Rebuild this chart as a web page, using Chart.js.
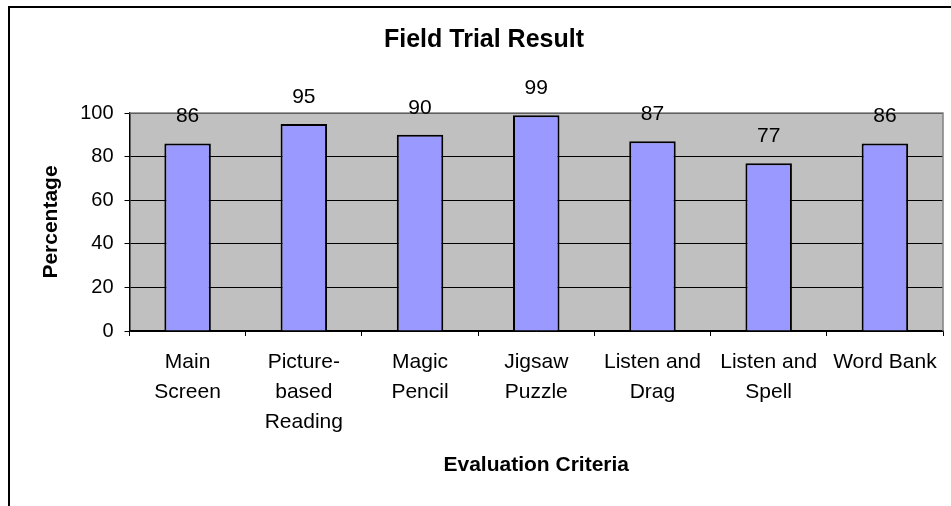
<!DOCTYPE html>
<html>
<head>
<meta charset="utf-8">
<title>Field Trial Result</title>
<script src="https://cdn.jsdelivr.net/npm/chart.js@4.4.1/dist/chart.umd.min.js"></script>
<style>
    body { margin: 0; background: #fff; overflow: hidden; }
    #frame {
        position: absolute; left: 8px; top: 6px;
        width: 1000px; height: 600px;
        border-left: 2px solid #000; border-top: 2px solid #000;
    }
    #chart1 { position: absolute; left: 0; top: 0; }
</style>
</head>
<body>
<div id="frame"></div>
<canvas id="chart1" width="951" height="506"></canvas>
<script>
        // data
        const criteria = [
            ['Main', 'Screen'],
            ['Picture-', 'based', 'Reading'],
            ['Magic', 'Pencil'],
            ['Jigsaw', 'Puzzle'],
            ['Listen and', 'Drag'],
            ['Listen and', 'Spell'],
            ['Word Bank']
        ];
        const percentage = [86, 95, 90, 99, 87, 77, 86];
        const yTicks = [0, 20, 40, 60, 80, 100];

        const fontFamily = "'Liberation Sans', Arial, sans-serif";

        // gray plot area, gray top/right edge, title and value labels
        const excelLook = {
            id: 'excelLook',
            beforeDraw(chart) {
                const a = chart.chartArea;
                const c = chart.ctx;
                c.save();
                c.fillStyle = '#C0C0C0';
                c.fillRect(a.left, a.top, a.right - a.left, a.bottom - a.top);
                c.restore();
            },
            afterDraw(chart) {
                const a = chart.chartArea;
                const c = chart.ctx;
                c.save();
                c.strokeStyle = '#808080';
                c.lineWidth = 1.5;
                c.beginPath();
                c.moveTo(a.left, a.top);
                c.lineTo(a.right, a.top);
                c.lineTo(a.right, a.bottom);
                c.stroke();

                c.fillStyle = '#000';
                c.textAlign = 'center';
                c.textBaseline = 'middle';
                c.font = 'bold 25px ' + fontFamily;
                c.fillText('Field Trial Result', 484, 40);

                c.font = '21px ' + fontFamily;
                chart.getDatasetMeta(0).data.forEach(function (bar, i) {
                    c.fillText(String(percentage[i]), bar.x, bar.y - 27);
                });
                c.restore();
            }
        };

        const ctx1 = document.getElementById('chart1');

        new Chart(ctx1, {
        type: 'bar',
        data: {
            labels: criteria,
            datasets: [{
                label: 'Percentage',
                data: percentage,
                backgroundColor: '#9999FF',
                borderColor: '#000000',
                borderWidth: 2,
                borderSkipped: 'bottom',
                categoryPercentage: 1,
                barPercentage: 0.4,
            }]
        },
        plugins: [excelLook],
        options: {
            responsive: false,
            animation: false,
            events: [],
            layout: {
                padding: { left: 0, right: 8, top: 113, bottom: 0 }
            },
            plugins: {
                legend: { display: false },
                title: { display: false },
                tooltip: { enabled: false },
            },
            scales: {
                x: {
                    afterFit(scale) { scale.height = 175; },
                    grid: {
                        offset: true,
                        drawOnChartArea: false,
                        tickLength: 5,
                        color: '#000',
                    },
                    border: { display: true, color: '#000', width: 1.5 },
                    ticks: {
                        color: '#000',
                        padding: 11,
                        maxRotation: 0,
                        autoSkip: false,
                        font: { family: fontFamily, size: 21, lineHeight: 30 / 21 },
                    },
                    title: {
                        display: true,
                        text: 'Evaluation Criteria',
                        color: '#000',
                        padding: { top: 0, bottom: 28 },
                        font: { family: fontFamily, size: 21, weight: 'bold' },
                    },
                },
                y: {
                    min: 0,
                    max: 100,
                    afterFit(scale) { scale.width = 129.5; },
                    afterBuildTicks(scale) {
                        scale.ticks = yTicks.map(v => ({ value: v }));
                    },
                    grid: {
                        color: '#000',
                        lineWidth: 1,
                        tickLength: 5,
                    },
                    border: { display: true, color: '#000', width: 1.5 },
                    ticks: {
                        color: '#000',
                        padding: 11,
                        font: { family: fontFamily, size: 20 },
                    },
                    title: {
                        display: true,
                        text: 'Percentage',
                        color: '#000',
                        padding: { top: 39, bottom: 0 },
                        font: { family: fontFamily, size: 21, weight: 'bold' },
                    },
                },
            },
        },
        });
</script>
</body>
</html>
